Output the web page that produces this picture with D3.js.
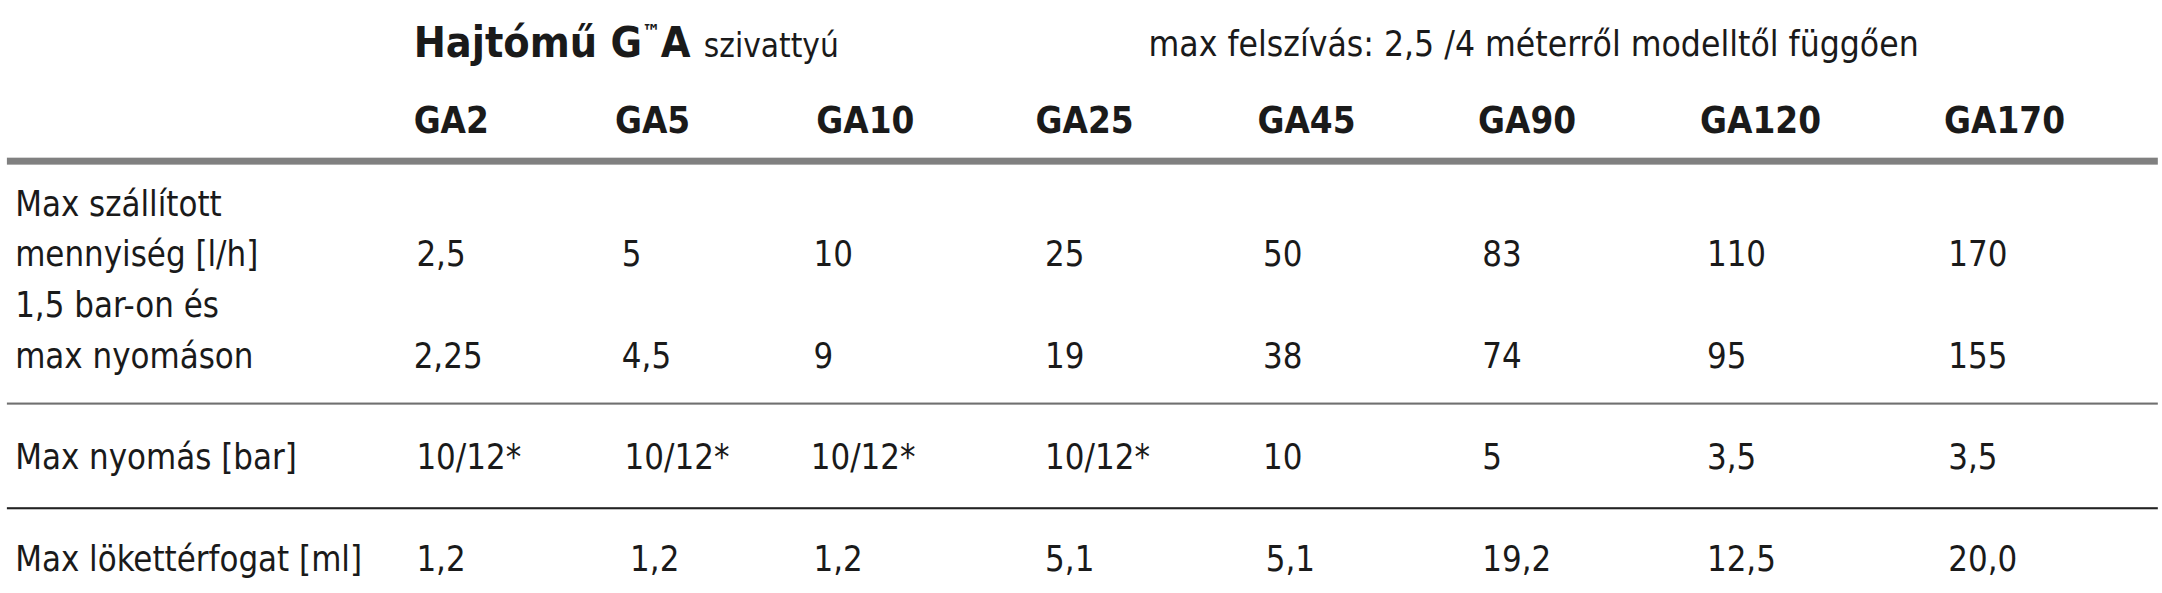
<!DOCTYPE html>
<html><head><meta charset="utf-8">
<script src="https://cdn.jsdelivr.net/npm/d3@7"></script>
<style>body{margin:0;background:#fff}text{font-family:"Liberation Sans Narrow","DejaVu Sans Condensed","Roboto Condensed",sans-serif;fill:#1a1a1a}</style>
</head><body><svg id="c" width="2162" height="593"></svg>
<script>
const models = ["GA2","GA5","GA10","GA25","GA45","GA90","GA120","GA170"];
const flowMax = ["2,5","5","10","25","50","83","110","170"];
const flowAtPressure = ["2,25","4,5","9","19","38","74","95","155"];
const maxPressure = ["10/12*","10/12*","10/12*","10/12*","10","5","3,5","3,5"];
const strokeVol = ["1,2","1,2","1,2","5,1","5,1","19,2","12,5","20,0"];
const rowLabels = [["Max szállított","mennyiség [l/h]"],["1,5 bar-on és","max nyomáson"],["Max nyomás [bar]"],["Max lökettérfogat [ml]"]];
const colX = [300,446,592,751,912,1072,1233,1410];
const valOff = [[2,5,-2,7,4,3,5,3],[0,5,-2,7,4,3,5,3],[2,7,-4,7,4,3,5,3],[2,11,-2,7,6,3,5,3]];

const svg = d3.select("#c");
const g = svg.append("g").attr("transform","scale(1.3788,1.3953)");
const x = d3.scaleOrdinal().domain(models).range(colX);

g.append("text").attr("x",300).attr("y",41).attr("font-size",31).attr("font-weight","bold")
 .html('Hajtómű G<tspan font-size="15" dy="-13">™</tspan><tspan dy="13">A</tspan> <tspan font-weight="normal" font-size="24">szivattyú</tspan>');
g.append("text").attr("x",833).attr("y",40).attr("font-size",25.5).text("max felszívás: 2,5 /4 méterről modelltől függően");

g.selectAll(".h").data(models).join("text").attr("x",d=>x(d)).attr("y",95)
 .attr("font-size",26.5).attr("font-weight","bold").text(d=>d);

g.append("rect").attr("x",5).attr("y",113).attr("width",1560).attr("height",5).attr("fill","#808080");
g.append("rect").attr("x",5).attr("y",288.5).attr("width",1560).attr("height",1.5).attr("fill","#707070");
g.append("rect").attr("x",5).attr("y",363.5).attr("width",1560).attr("height",1.5).attr("fill","#222");

const fs = 25;
const labY = [[155,191],[227,264],[336],[409]];
rowLabels.forEach((ls,i)=>ls.forEach((l,j)=>g.append("text").attr("x",11).attr("y",labY[i][j]).attr("font-size",fs).text(l)));
const rows = [[flowMax,191],[flowAtPressure,264],[maxPressure,336],[strokeVol,409]];
rows.forEach(([arr,y],ri)=>{
  g.selectAll(".r"+ri).data(arr).join("text").attr("x",(d,i)=>x(models[i])+valOff[ri][i]).attr("y",y)
   .attr("font-size",fs).text(d=>d);
});
</script></body></html>
